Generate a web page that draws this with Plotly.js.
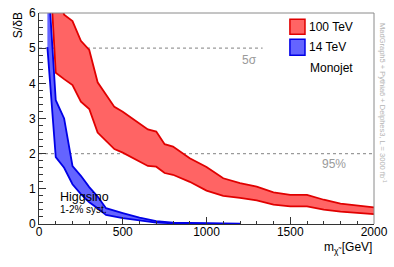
<!DOCTYPE html>
<html>
<head>
<meta charset="utf-8">
<script src="https://cdn.plot.ly/plotly-3.0.1.min.js"></script>
<style>html,body{margin:0;padding:0;background:#fff;}#plot{width:394px;height:267px;}</style>
</head>
<body>
<div id="plot"></div>
<script>
// 100 TeV band
var redMass  = [50, 100, 150, 200, 250, 300, 350, 450, 500, 650, 700, 750, 800, 900, 1000, 1100, 1200, 1300, 1400, 1500, 1600, 1700, 1800, 1900, 2000];
var redUpper = [9.5, 6.8, 5.95, 5.77, 5.21, 4.95, 4.03, 3.33, 3.19, 2.69, 2.63, 2.27, 2.20, 1.87, 1.62, 1.30, 1.16, 1.06, 0.90, 0.83, 0.83, 0.69, 0.58, 0.52, 0.47];
var redLower = [8.5, 4.30, 4.12, 3.95, 3.48, 3.27, 2.60, 2.13, 2.03, 1.65, 1.63, 1.45, 1.40, 1.20, 0.95, 0.80, 0.74, 0.67, 0.55, 0.50, 0.50, 0.41, 0.35, 0.31, 0.28];
// 14 TeV band
var blueMass  = [50, 100, 150, 200, 250, 300, 350, 400, 500, 600, 700, 800, 900, 1000, 1100, 1200];
var blueUpper = [7.3, 3.52, 3.00, 1.65, 1.37, 1.05, 0.78, 0.45, 0.31, 0.18, 0.08, 0.04, 0.03, 0.02, 0.02, 0.01];
var blueLower = [5.03, 1.90, 1.60, 1.13, 0.85, 0.62, 0.45, 0.26, 0.17, 0.10, 0.04, 0.02, 0.01, 0.01, 0.005, 0.005];
// reference levels
var refLevels = [5, 2];
var refLabels = ["5\u03c3", "95%"];
var refEnds   = [1335, 2000];
var legendNames = ["100 TeV", "14 TeV"];

var F = "Liberation Sans, Arial, sans-serif";
var redLine = "#e00000", redFill = "#ff6464";
var blueLine = "#0000e6", blueFill = "#6464ff";

var traces = [
  {x: redMass, y: redLower, mode: "lines", line: {color: redLine, width: 1.8}, hoverinfo: "skip", showlegend: false},
  {x: redMass, y: redUpper, mode: "lines", fill: "tonexty", fillcolor: redFill, line: {color: redLine, width: 1.8}, hoverinfo: "skip", showlegend: false},
  {x: blueMass, y: blueLower, mode: "lines", line: {color: blueLine, width: 1.8}, hoverinfo: "skip", showlegend: false},
  {x: blueMass, y: blueUpper, mode: "lines", fill: "tonexty", fillcolor: blueFill, line: {color: blueLine, width: 1.8}, hoverinfo: "skip", showlegend: false}
];

var shapes = [];
for (var i = 0; i < refLevels.length; i++) {
  shapes.push({type: "line", xref: "x", yref: "y", x0: 0, x1: refEnds[i], y0: refLevels[i], y1: refLevels[i],
    line: {color: "#9a9a9a", width: 1.2, dash: "dot"}, layer: "below"});
}
// frame top & right
shapes.push({type: "line", xref: "paper", yref: "paper", x0: 0, x1: 1, y0: 1, y1: 1, line: {color: "#8a8a8a", width: 1}});
shapes.push({type: "line", xref: "paper", yref: "paper", x0: 1, x1: 1, y0: 0, y1: 1, line: {color: "#8a8a8a", width: 1}});
// legend boxes
var boxCols = [[redFill, redLine], [blueFill, blueLine]];
var boxY = [[0.899, 0.970], [0.800, 0.876]];
for (var j = 0; j < 2; j++) {
  shapes.push({type: "rect", xref: "paper", yref: "paper", x0: 0.749, x1: 0.794, y0: boxY[j][0], y1: boxY[j][1],
    fillcolor: boxCols[j][0], line: {color: boxCols[j][1], width: 1.5}});
}

var annotations = [
  {xref: "paper", yref: "paper", x: -0.063, y: 0.942, text: "S/\u03b4B", textangle: -90, showarrow: false,
    xanchor: "center", yanchor: "middle", font: {family: F, size: 12, color: "#000"}},
  {xref: "paper", yref: "paper", x: 1.0, y: -0.112, text: "m<sub>\u03c7\u0303</sub> [GeV]", showarrow: false,
    xanchor: "right", yanchor: "middle", font: {family: F, size: 12, color: "#000"}},
  {xref: "paper", yref: "paper", x: 0.800, y: 0.935, text: legendNames[0], showarrow: false,
    xanchor: "left", yanchor: "middle", font: {family: F, size: 12, color: "#000"}},
  {xref: "paper", yref: "paper", x: 0.800, y: 0.838, text: legendNames[1], showarrow: false,
    xanchor: "left", yanchor: "middle", font: {family: F, size: 12, color: "#000"}},
  {xref: "paper", yref: "paper", x: 0.802, y: 0.737, text: "Monojet", showarrow: false,
    xanchor: "left", yanchor: "middle", font: {family: F, size: 12, color: "#000"}},
  {xref: "paper", yref: "paper", x: 0.627, y: 0.776, text: refLabels[0], showarrow: false,
    xanchor: "center", yanchor: "middle", font: {family: F, size: 12, color: "#9a9a9a"}},
  {xref: "paper", yref: "paper", x: 0.922, y: 0.285, text: refLabels[1], showarrow: false,
    xanchor: "right", yanchor: "middle", font: {family: F, size: 12, color: "#9a9a9a"}},
  {xref: "paper", yref: "paper", x: 0.058, y: 0.130, text: "Higgsino", showarrow: false,
    xanchor: "left", yanchor: "middle", font: {family: F, size: 12.5, color: "#000"}},
  {xref: "paper", yref: "paper", x: 0.058, y: 0.068, text: "1-2% syst.", showarrow: false,
    xanchor: "left", yanchor: "middle", font: {family: F, size: 10, color: "#000"}},
  {xref: "paper", yref: "paper", x: 1.027, y: 0.573, text: "MadGraph5 + Pythia6 + Delphes3, L = 3000 fb<sup>-1</sup>", textangle: 90, showarrow: false,
    xanchor: "center", yanchor: "middle", font: {family: F, size: 7.5, color: "#b4b4b4"}}
];

var layout = {
  width: 394, height: 267,
  margin: {l: 39, r: 20, t: 13, b: 43, pad: 0},
  paper_bgcolor: "#fff", plot_bgcolor: "#fff",
  showlegend: false,
  xaxis: {range: [0, 2000], showgrid: false, zeroline: false, showline: true, linecolor: "#333", linewidth: 1,
    ticks: "inside", ticklen: 7, tickcolor: "#333", dtick: 500, tick0: 0, ticklabelstandoff: -3,
    minor: {ticks: "inside", ticklen: 3.5, dtick: 100, tickcolor: "#333", showgrid: false},
    tickfont: {family: F, size: 12, color: "#000"}},
  yaxis: {range: [0, 6], showgrid: false, zeroline: false, showline: true, linecolor: "#333", linewidth: 1,
    ticks: "inside", ticklen: 7, tickcolor: "#333", dtick: 1, tick0: 0,
    minor: {ticks: "inside", ticklen: 3.5, dtick: 0.2, tickcolor: "#333", showgrid: false},
    tickfont: {family: F, size: 12, color: "#000"}},
  shapes: shapes,
  annotations: annotations
};

Plotly.newPlot("plot", traces, layout, {staticPlot: true, displayModeBar: false});
</script>
</body>
</html>
